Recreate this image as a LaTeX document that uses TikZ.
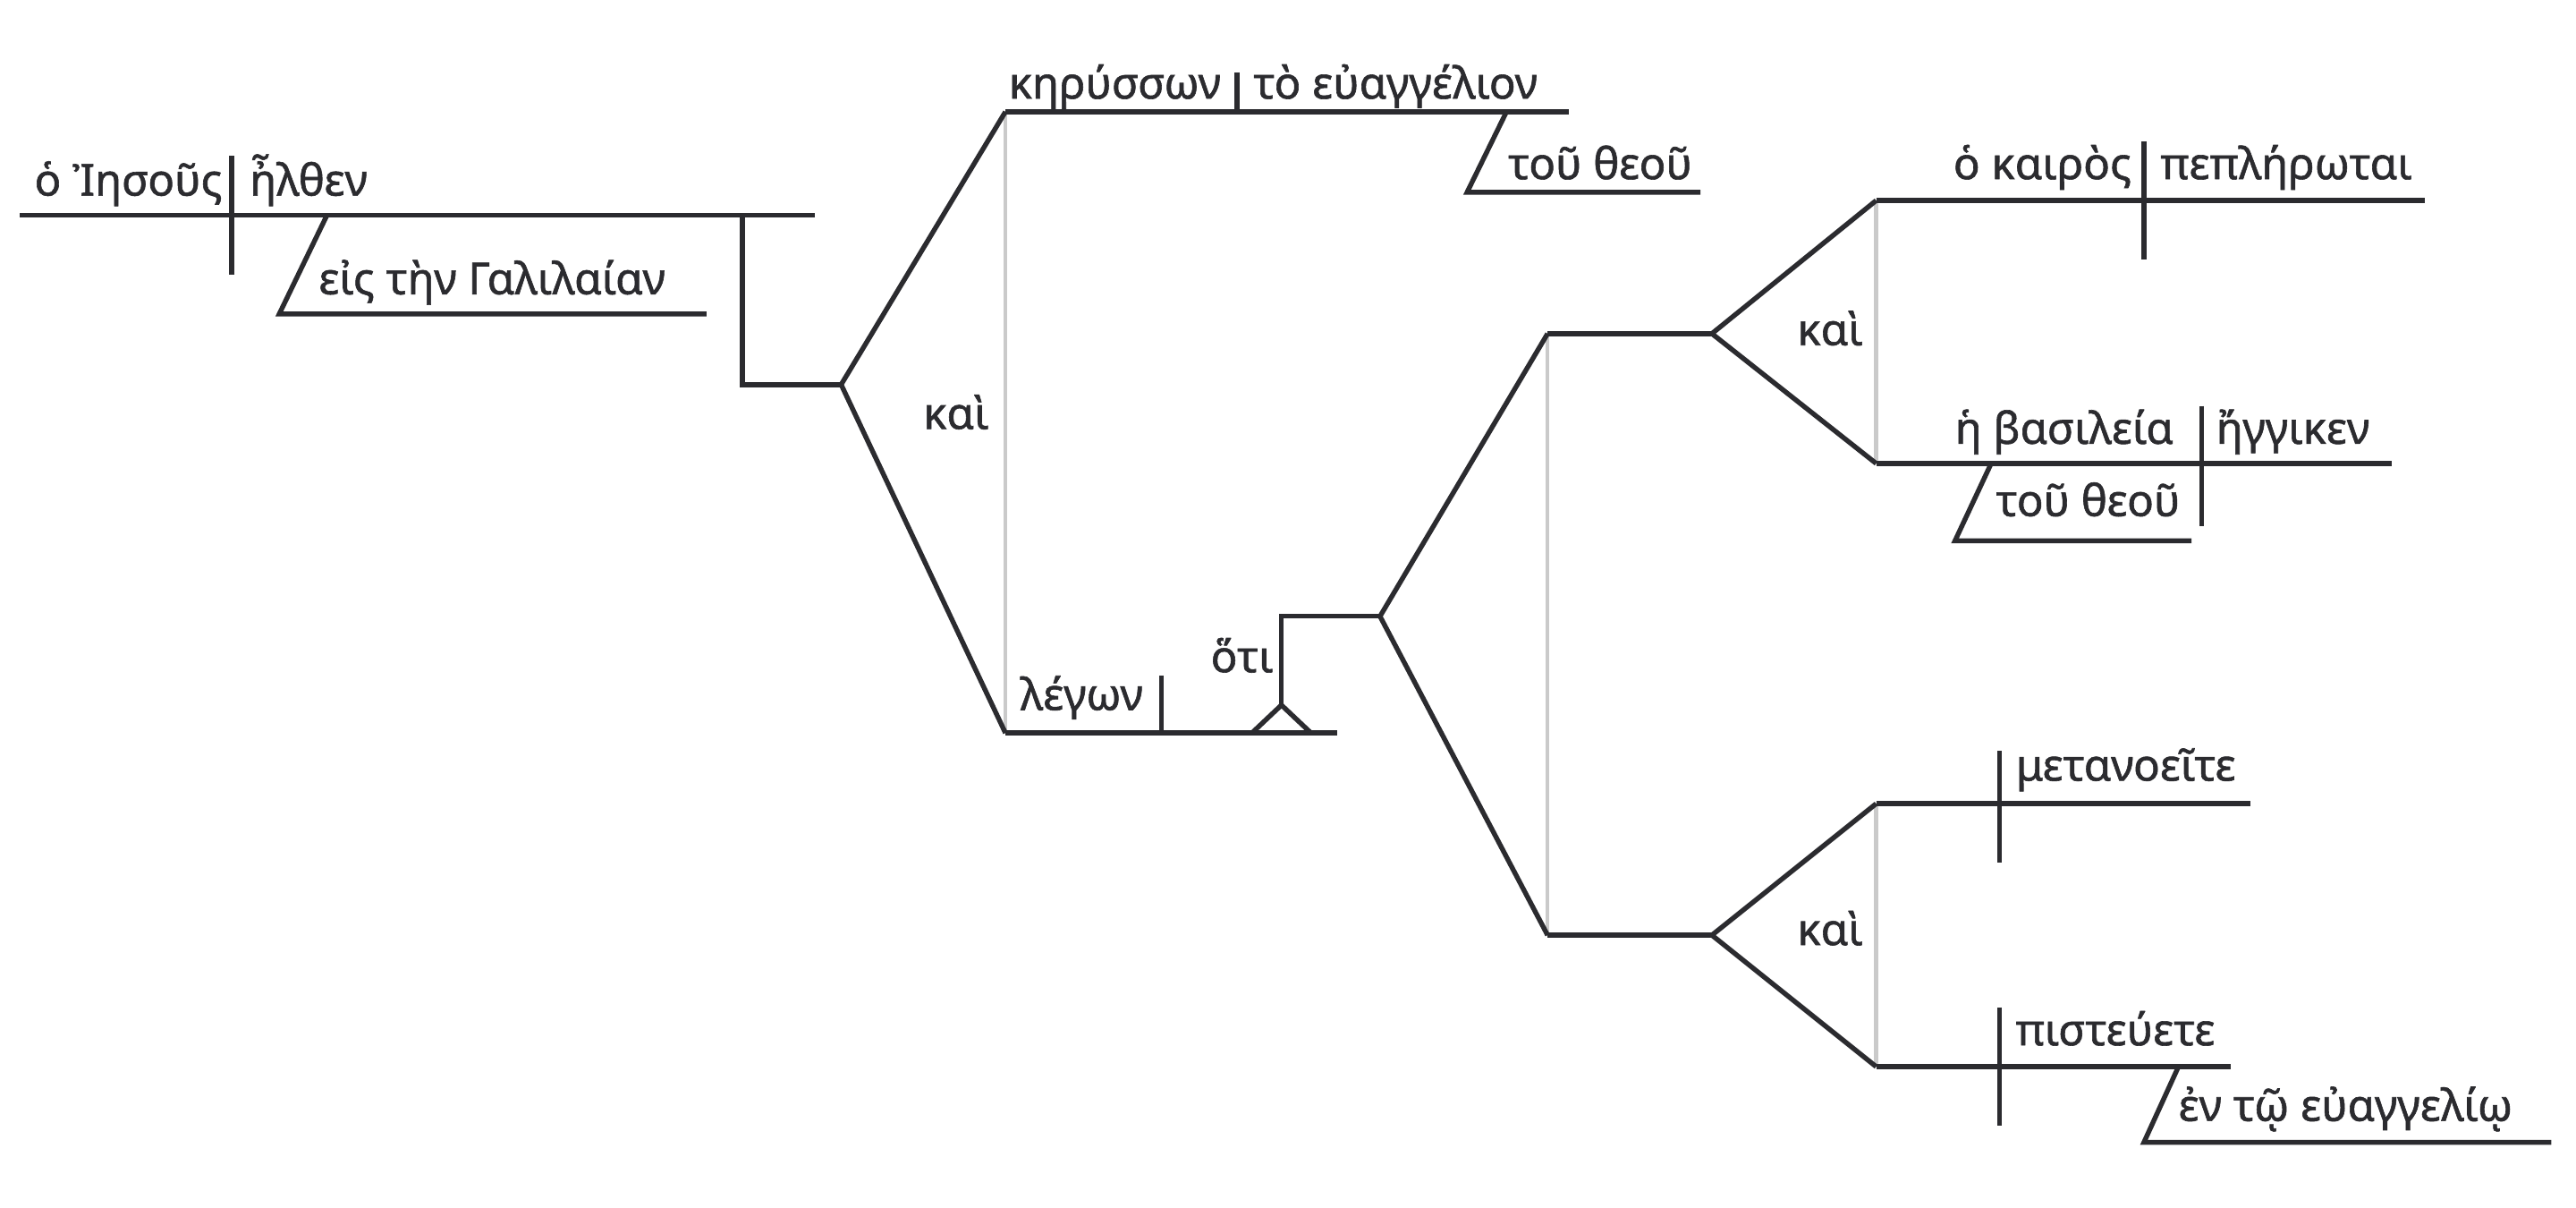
\documentclass[tikz,border=0pt]{standalone}
\usepackage{fontspec}
\setmainfont{Noto Sans}[FakeBold=1.2]
\definecolor{ink}{HTML}{2B2B2F}
\definecolor{lightgr}{HTML}{CACACA}
\begin{document}
\begin{tikzpicture}[x=0.018367cm,y=-0.018367cm,
  ln/.style={line width=1.55pt,draw=ink},
  gr/.style={line width=1.2pt,draw=lightgr},
  lbl/.style={anchor=base west,inner sep=0pt,outer sep=0pt,font=\fontsize{14}{16}\selectfont,text=ink}]
\useasboundingbox[fill=white] (0,0) rectangle (1568,735);

% ---------- coordinates ----------
% main clause
\coordinate (mA) at (12,131);   \coordinate (mB) at (496,131);
\coordinate (mD1) at (141,95);  \coordinate (mD2) at (141,167);
\coordinate (mP1) at (199,131); \coordinate (mP2) at (170,191); \coordinate (mP3) at (430,191);
\coordinate (mC1) at (452,131); \coordinate (mC2) at (452,234);
\coordinate (F1) at (512,234);
% first compound (κηρύσσων / λέγων)
\coordinate (T0) at (612,68);   \coordinate (T0e) at (955,68);
\coordinate (T0d1) at (753,44); \coordinate (T0d2) at (753,68);
\coordinate (T0s1) at (917,68); \coordinate (T0s2) at (893,117); \coordinate (T0s3) at (1035,117);
\coordinate (B0) at (612,446);  \coordinate (B0e) at (814,446);
\coordinate (B0d1) at (707,411); \coordinate (B0d2) at (707,446);
\coordinate (Tl) at (762,446);  \coordinate (Ta) at (780,429); \coordinate (Tr) at (798,446);
\coordinate (Tv) at (780,375);
\coordinate (F2) at (840,375);
% ὅτι clause compound
\coordinate (U0) at (942,203);  \coordinate (F3) at (1042,203);
\coordinate (L0) at (942,569);  \coordinate (F4) at (1042,569);
% upper pair
\coordinate (U1) at (1142,122); \coordinate (U1e) at (1476,122);
\coordinate (U1d1) at (1305,86); \coordinate (U1d2) at (1305,158);
\coordinate (U2) at (1142,282); \coordinate (U2e) at (1456,282);
\coordinate (U2d1) at (1340,247); \coordinate (U2d2) at (1340,320);
\coordinate (U2s1) at (1212,282); \coordinate (U2s2) at (1190,329); \coordinate (U2s3) at (1334,329);
% lower pair
\coordinate (L1) at (1142,489); \coordinate (L1e) at (1370,489);
\coordinate (L1d1) at (1217,457); \coordinate (L1d2) at (1217,525);
\coordinate (L2) at (1142,649); \coordinate (L2e) at (1358,649);
\coordinate (L2d1) at (1217,613); \coordinate (L2d2) at (1217,685);
\coordinate (L2s1) at (1326,649); \coordinate (L2s2) at (1305,695); \coordinate (L2s3) at (1553,695);

% ---------- gray conjunction lines ----------
\draw[gr] (T0) -- (B0);
\draw[gr] (U0) -- (L0);
\draw[gr] (U1) -- (U2);
\draw[gr] (L1) -- (L2);

% ---------- black lines ----------
\draw[ln] (mA) -- (mB);
\draw[ln] (mD1) -- (mD2);
\draw[ln] (mP1) -- (mP2) -- (mP3);
\draw[ln] (mC1) -- (mC2) -- (F1);
\draw[ln] (T0) -- (F1) -- (B0);
\draw[ln] (T0) -- (T0e);
\draw[ln] (T0d1) -- (T0d2);
\draw[ln] (T0s1) -- (T0s2) -- (T0s3);
\draw[ln] (B0) -- (B0e);
\draw[ln] (B0d1) -- (B0d2);
\draw[ln] (Tl) -- (Ta) -- (Tr);
\draw[ln] (Ta) -- (Tv) -- (F2);
\draw[ln] (U0) -- (F2) -- (L0);
\draw[ln] (U0) -- (F3);
\draw[ln] (L0) -- (F4);
\draw[ln] (U1) -- (F3) -- (U2);
\draw[ln] (L1) -- (F4) -- (L2);
\draw[ln] (U1) -- (U1e);
\draw[ln] (U1d1) -- (U1d2);
\draw[ln] (U2) -- (U2e);
\draw[ln] (U2d1) -- (U2d2);
\draw[ln] (U2s1) -- (U2s2) -- (U2s3);
\draw[ln] (L1) -- (L1e);
\draw[ln] (L1d1) -- (L1d2);
\draw[ln] (L2) -- (L2e);
\draw[ln] (L2d1) -- (L2d2);
\draw[ln] (L2s1) -- (L2s2) -- (L2s3);

% ---------- words ----------
\node[lbl] (w1) at (21,119) {ὁ Ἰησοῦς};
\node[lbl] (w2) at (152,119) {ἦλθεν};
\node[lbl] (w3) at (194,179) {εἰς τὴν Γαλιλαίαν};
\node[lbl] (w4) at (614,60) {κηρύσσων};
\node[lbl] (w5) at (763,60) {τὸ εὐαγγέλιον};
\node[lbl] (w6) at (918,109) {τοῦ θεοῦ};
\node[lbl] (w7) at (562,261) {καὶ};
\node[lbl] (w8) at (621,432) {λέγων};
\node[lbl] (w9) at (737,409) {ὅτι};
\node[lbl] (w10) at (1094,210) {καὶ};
\node[lbl] (w11) at (1189,109) {ὁ καιρὸς};
\node[lbl] (w12) at (1315,109) {πεπλήρωται};
\node[lbl] (w13) at (1190,270) {ἡ βασιλεία};
\node[lbl] (w14) at (1349,270) {ἤγγικεν};
\node[lbl] (w15) at (1215,314) {τοῦ θεοῦ};
\node[lbl] (w16) at (1094,575) {καὶ};
\node[lbl] (w17) at (1227,475) {μετανοεῖτε};
\node[lbl] (w18) at (1227,636) {πιστεύετε};
\node[lbl] (w19) at (1326,682) {ἐν τῷ εὐαγγελίῳ};
\end{tikzpicture}
\end{document}
